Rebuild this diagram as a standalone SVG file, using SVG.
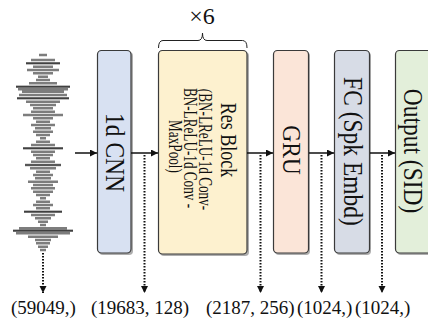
<svg xmlns="http://www.w3.org/2000/svg" width="428" height="322" viewBox="0 0 428 322">
<style>
.box{stroke:#3a3a3a;stroke-width:1.2}
.shadow{fill:#6b6b6b;opacity:0.55}
.lbl{font-family:"Liberation Serif","Times New Roman",serif;fill:#111}
.big{font-size:23.5px}
.arr{stroke:#111;stroke-width:1.5;fill:none}
.dot{stroke:#111;stroke-width:2;fill:none;stroke-dasharray:1.6 1.4}
.wave{stroke:#7d7d7d;stroke-width:2.6;fill:none}
.wdark{stroke:#2a2a2a;stroke-width:0.9;fill:none}
</style>
<defs>
<marker id="ah" markerUnits="userSpaceOnUse" markerWidth="8" markerHeight="8" refX="7" refY="3.5" orient="auto">
<path d="M0,0 L7,3.5 L0,7 z" fill="#111"/>
</marker>
</defs>
<rect width="428" height="322" fill="#ffffff"/>

<g id="waveform">
<path class="wave" d="M39 55H47M31 60H55M26 63.3H60M33 66.7H53M27 70H59M33 73.3H53M38 76.7H48M36 80H50M29 83.3H57M16 86.7H70M18 89.3H68M22 91.7H64M19 95H67M17 98.3H69M26 101.7H60M30 105H56M33 108.3H53M31 111.7H55M23 115H63M33 118.3H53M36 121.7H50M31 125H55M35 128.3H51M33 131.7H53M36 135H50M40 138.3H46M36 141.7H50M31 145H55M23 148.3H63M31 151.7H55M33 155H53M36 158.3H50M31 161.7H55M25 165H61M30 168.3H56M36 171.7H50M33 175H53M35 178.3H51M28 181.7H58M33 185H53M31 188.3H55M33 191.7H53M36 195H50M40 198.3H46M36 201.7H50M33 205H53M36 208.3H50M24 211.7H62M31 215H55M35 218.3H51M38 221.7H48M40 225H46M19 228.3H67M13 230.7H73M16 233.3H70M28 236.7H58M35 240H51M36 243.3H50M38 246.7H48M40 250H46"/>
<path class="wdark" d="M26 63.3H60M16 86.7H70M17 98.3H69M23 148.3H63M25 165H61M24 211.7H62M13 230.7H73"/>
</g>

<g id="cnn">
<rect class="shadow" x="99" y="52" width="34" height="203" rx="4"/>
<rect class="box" x="97.5" y="50.5" width="33.5" height="202.5" rx="4" fill="#d8e1f2"/>
<text class="lbl big" text-anchor="middle" transform="translate(105.5,152.5) rotate(90) scale(1,1.15)">1d CNN</text>
</g>

<g id="resblock">
<rect class="shadow" x="160" y="52" width="89" height="204" rx="4"/>
<rect class="box" x="158.5" y="50.5" width="88.5" height="203.5" rx="4" fill="#fdf1cf"/>
<text class="lbl" font-size="18" text-anchor="middle" transform="translate(220.5,140) rotate(90) scale(1,1.25)">Res Block</text>
<text class="lbl" font-size="13.2" text-anchor="middle" transform="translate(199,149.5) rotate(90) scale(1,1.35)">(BN-LReLU-1d Conv-</text>
<text class="lbl" font-size="13.2" text-anchor="middle" transform="translate(184,148) rotate(90) scale(1,1.35)">BN-LReLU-1d Conv -</text>
<text class="lbl" font-size="13.2" text-anchor="middle" transform="translate(168.5,146.5) rotate(90) scale(1,1.35)">MaxPool)</text>
</g>

<g id="gru">
<rect class="shadow" x="275" y="52" width="35" height="203" rx="4"/>
<rect class="box" x="273.5" y="50.5" width="35" height="202.5" rx="4" fill="#fbe5d8"/>
<text class="lbl big" text-anchor="middle" transform="translate(282.5,150) rotate(90) scale(1,1.1)">GRU</text>
</g>

<g id="fc">
<rect class="shadow" x="336" y="52" width="35" height="203" rx="4"/>
<rect class="box" x="334.5" y="50.5" width="35" height="202.5" rx="4" fill="#d7dce6"/>
<text class="lbl big" text-anchor="middle" transform="translate(344,151.5) rotate(90) scale(1,1.12)">FC (Spk Embd)</text>
</g>

<g id="output">
<rect class="shadow" x="397" y="52" width="45" height="203" rx="4"/>
<rect class="box" x="395.5" y="50.5" width="45" height="202.5" rx="4" fill="#e3efda"/>
<text class="lbl big" text-anchor="middle" transform="translate(403.5,151) rotate(90) scale(1,1.15)">Output (SID)</text>
</g>

<g id="repeat">
<path d="M158.5,48 Q158.5,40.5 163,40.5 H198 Q202.5,40.5 202.5,33 Q202.5,40.5 207,40.5 H242.5 Q247,40.5 247,48" fill="none" stroke="#222" stroke-width="1"/>
<text class="lbl" font-size="24" text-anchor="middle" x="202" y="24">×6</text>
</g>

<g id="connectors">
<line class="arr" x1="75" y1="153" x2="97" y2="153" marker-end="url(#ah)"/>
<line class="arr" x1="131" y1="153" x2="158" y2="153" marker-end="url(#ah)"/>
<line class="arr" x1="247" y1="153" x2="273" y2="153" marker-end="url(#ah)"/>
<line class="arr" x1="309" y1="153" x2="334" y2="153" marker-end="url(#ah)"/>
<line class="arr" x1="370" y1="153" x2="395" y2="153" marker-end="url(#ah)"/>
<line class="dot" x1="43" y1="253" x2="43" y2="293" marker-end="url(#ah)"/>
<line class="dot" x1="144.5" y1="155" x2="144.5" y2="293" marker-end="url(#ah)"/>
<line class="dot" x1="260.5" y1="155" x2="260.5" y2="293" marker-end="url(#ah)"/>
<line class="dot" x1="321.5" y1="155" x2="321.5" y2="293" marker-end="url(#ah)"/>
<line class="dot" x1="382" y1="155" x2="382" y2="293" marker-end="url(#ah)"/>
</g>

<g id="shapes" class="lbl" font-size="19">
<text x="11" y="314">(59049,)</text>
<text x="91" y="314">(19683, 128)</text>
<text x="206" y="314">(2187, 256)</text>
<text x="297" y="314">(1024,)</text>
<text x="355" y="314">(1024,)</text>
</g>
</svg>
